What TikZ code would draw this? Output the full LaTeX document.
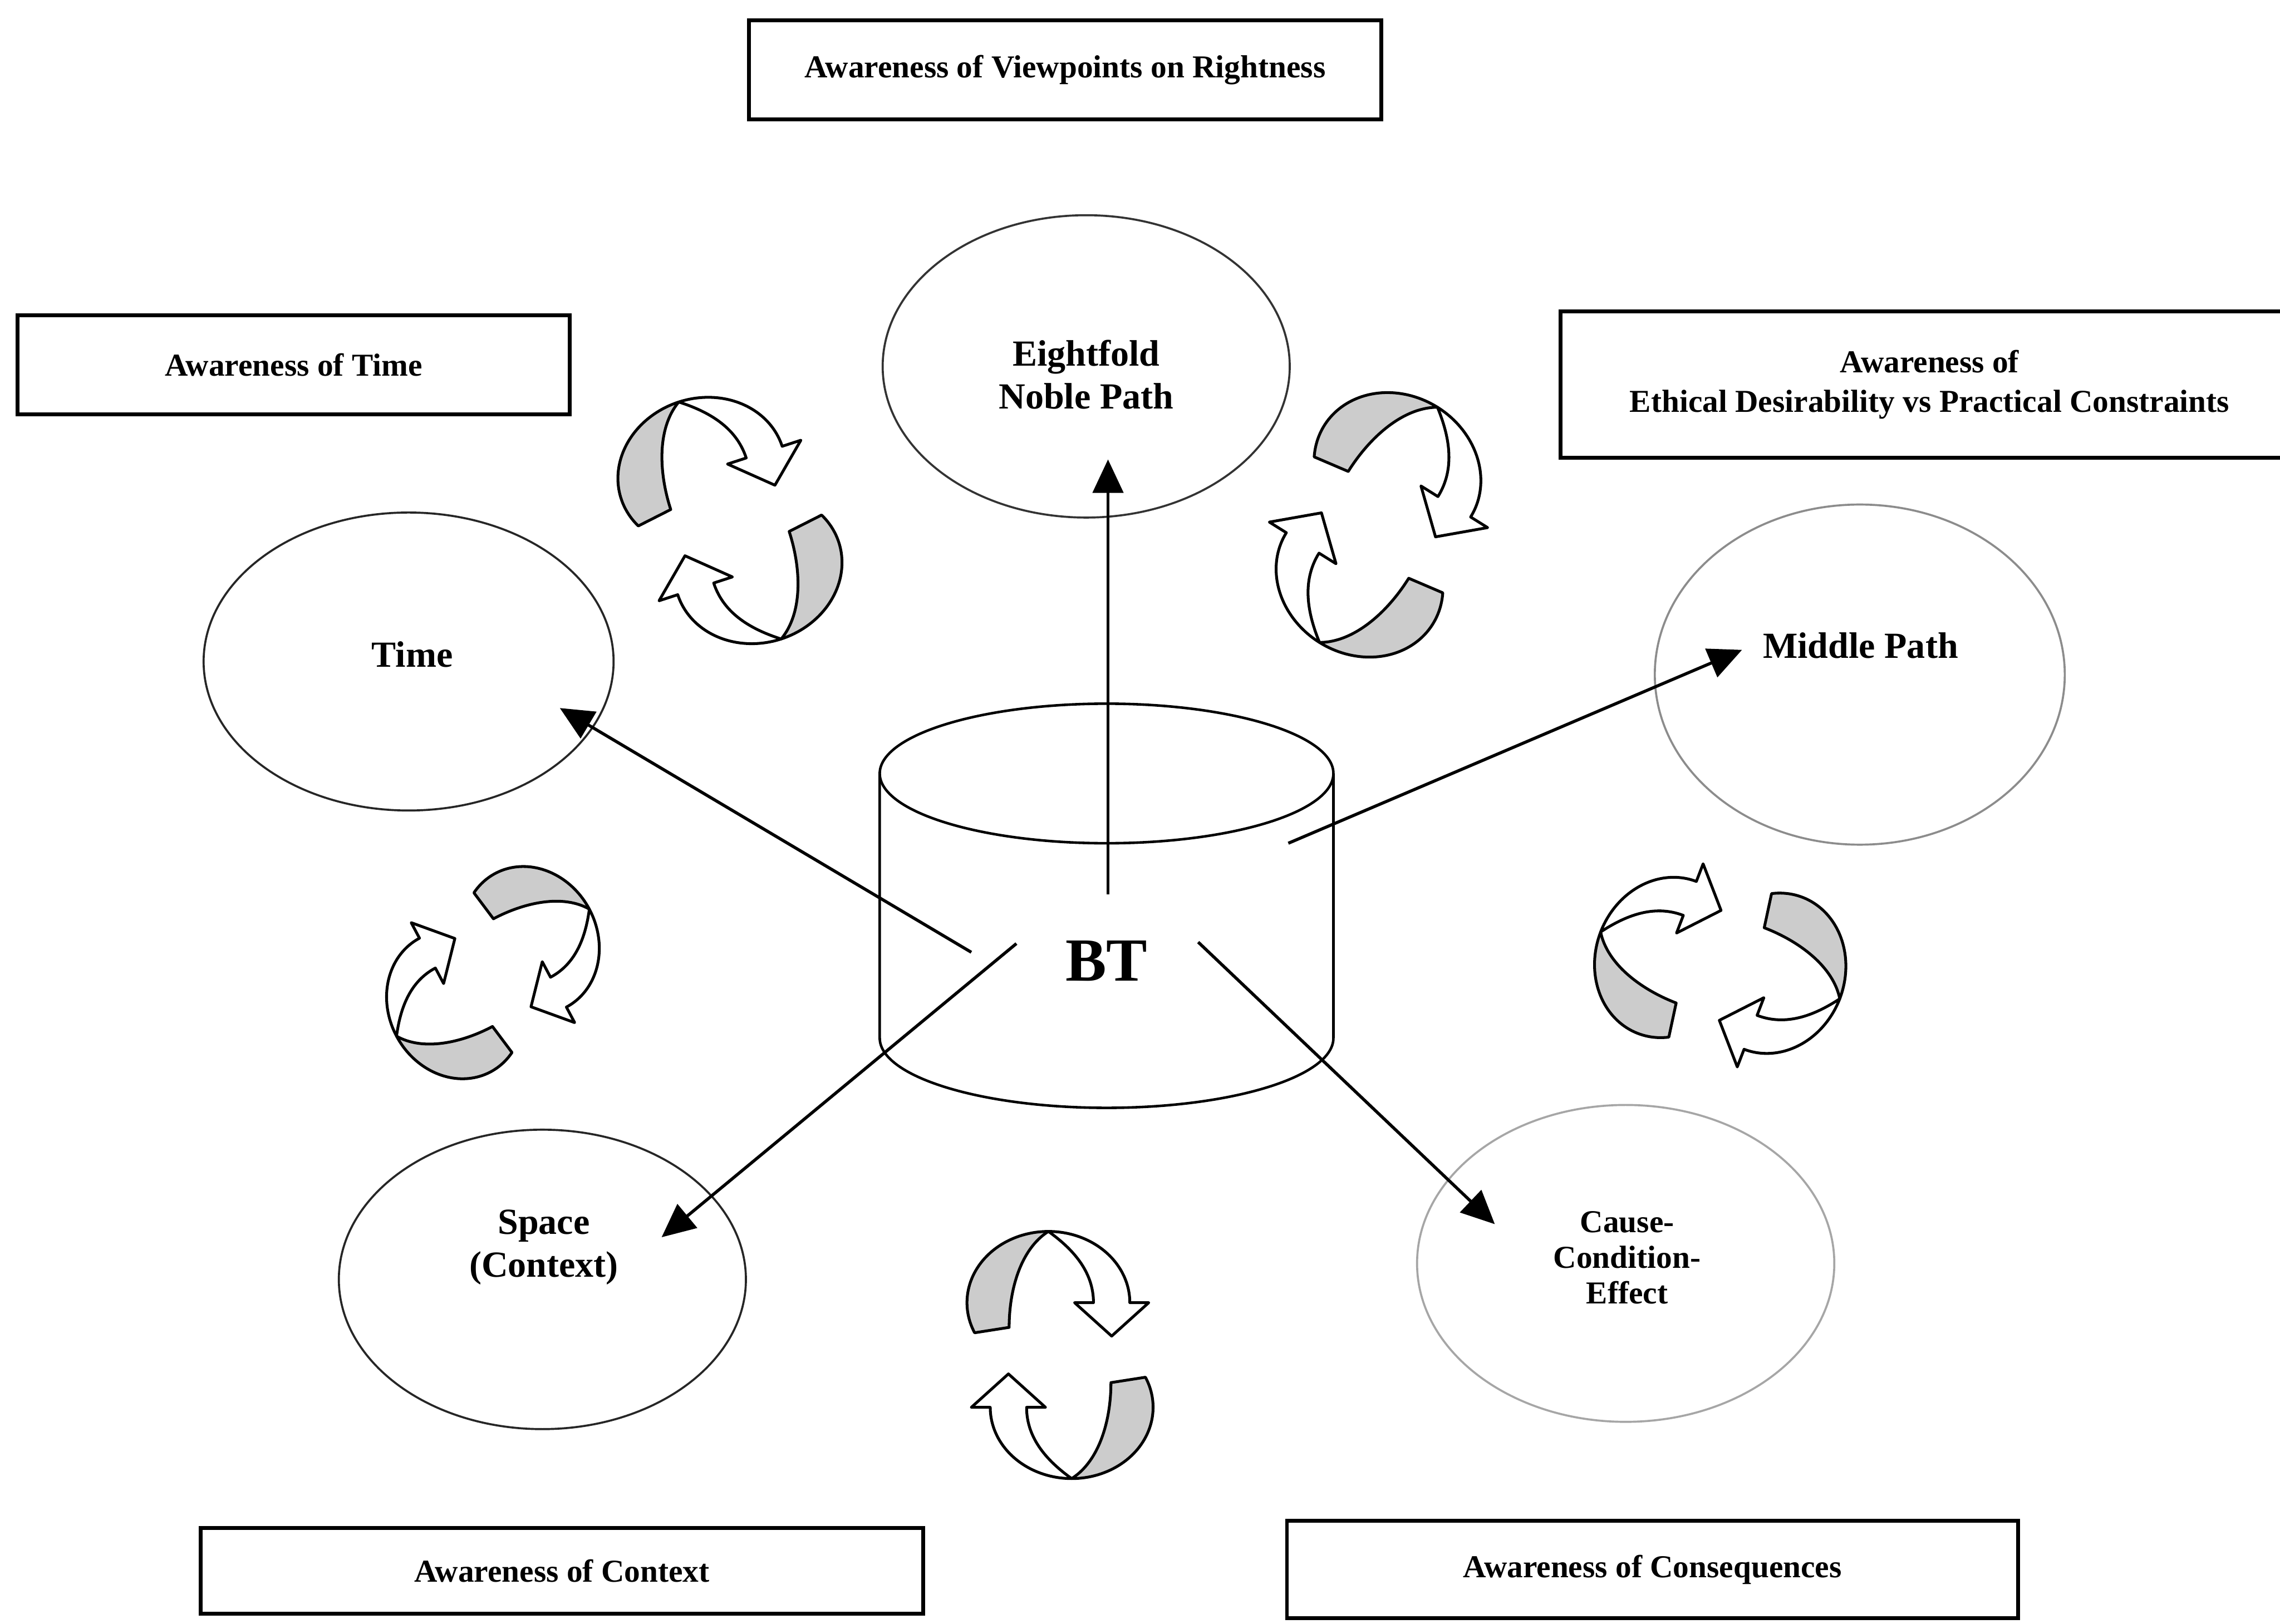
\documentclass[tikz,border=0pt]{standalone}
\usepackage{fontspec}
\setmainfont{Liberation Serif}
\usetikzlibrary{shapes.geometric, arrows.meta, calc}

% one twisted ribbon arrow: shaded back face running up to the twist at the
% top of its ring, then the white front face and the head
\newcommand{\ribbonarrow}{%
  \filldraw[ribshade]
    plot[domain=205:90, samples=50, variable=\t]
      ({-8+56*cos(\t)}, {36+49*sin(\t)})
    .. controls (-27,73) and (-35,45) .. (-35,19)
    -- cycle;
  \filldraw[ribwhite]
    plot[domain=90:0, samples=45, variable=\t]
      ({-8+56*cos(\t)}, {36+49*sin(\t)})
    -- (61,36) -- (35.5,13) -- (10,36) -- (23,36)
    .. controls (23,58) and (8,73.5) .. (-8,85)
    -- cycle;
}

\tikzset{
  % two ribbons chasing each other clockwise
  twistpair/.pic={
    \ribbonarrow
    \begin{scope}[rotate=180]
      \ribbonarrow
    \end{scope}
  },
}

\begin{document}
\begin{tikzpicture}[x=0.02cm, y=0.02cm,
  awbox/.style={draw=black, line width=1.5pt, rectangle, inner sep=0pt,
    font=\bfseries\fontsize{12.5}{15.5}\selectfont, align=center},
  oval/.style={ellipse, inner sep=0pt, line width=0.8pt},
  lbl/.style={font=\bfseries\fontsize{14.4}{16.8}\selectfont, align=center, inner sep=0pt},
  link/.style={line width=1.2pt, -{Triangle[length=0.46cm, width=0.42cm]}},
  cyl/.style={line width=1pt},
  ribshade/.style={fill=black!20, draw=black, line width=1.1pt, line join=round},
  ribwhite/.style={fill=white, draw=black, line width=1.1pt, line join=round},
]
\useasboundingbox (0,0) rectangle (1568,-1117);
\fill[white] (0,0) rectangle (1568,-1117);

% awareness boxes
\node[awbox, minimum width=8.7cm, minimum height=1.36cm] (viewpoints) at (732.5,-48) {Awareness of Viewpoints on Rightness};
\node[awbox, minimum width=7.6cm, minimum height=1.36cm] (timebox) at (202,-251) {Awareness of Time};
\node[awbox, minimum width=10.16cm, minimum height=2.02cm] (ethics) at (1327,-264.5) {Awareness of\\Ethical Desirability vs Practical Constraints};
\node[awbox, minimum width=9.94cm, minimum height=1.18cm] (contextbox) at (386.5,-1080.5) {Awareness of Context};
\node[awbox, minimum width=10.06cm, minimum height=1.34cm] (conseq) at (1136.5,-1079.5) {Awareness of Consequences};

% the five ovals and their labels
\node[oval, draw=black!80, minimum width=5.6cm, minimum height=4.16cm] (eightfold) at (747,-252) {};
\node[lbl] (eightlbl) at (747,-257.5) {Eightfold\\Noble Path};
\node[oval, draw=black!85, minimum width=5.64cm, minimum height=4.1cm] (time) at (281,-455) {};
\node[lbl] (timelbl) at (283.5,-450) {Time};
\node[oval, draw=black!45, minimum width=5.64cm, minimum height=4.68cm] (middle) at (1279,-464) {};
\node[lbl] (middlelbl) at (1279.5,-444) {Middle Path};
\node[oval, draw=black!85, minimum width=5.6cm, minimum height=4.12cm] (space) at (373,-880) {};
\node[lbl] (spacelbl) at (374,-858) {Space\\(Context)};
\node[oval, draw=black!35, minimum width=5.74cm, minimum height=4.36cm] (cause) at (1118,-869) {};
\node[font=\bfseries\fontsize{12.5}{13.9}\selectfont, align=center, inner sep=0pt] (causelbl) at (1119,-865) {Cause-\\Condition-\\Effect};

% central drum
\draw[cyl] (761,-532) ellipse[x radius=156, y radius=48];
\draw[cyl] (605,-532) -- (605,-714) arc[start angle=180, end angle=360, x radius=156, y radius=48] -- (917,-532);
\node[font=\bfseries\fontsize{24}{24}\selectfont, inner sep=0pt] (bt) at (761,-661) {BT};

% spokes from the drum
\coordinate (upS) at ($(bt)+(1,46)$);
\coordinate (upE) at ($(eightfold.center)+(15,-64)$);
\coordinate (timeS) at ($(bt)+(-93,6)$);
\coordinate (timeE) at ($(time.center)+(104,-32)$);
\coordinate (spaceS) at ($(bt)+(-62,12)$);
\coordinate (spaceE) at ($(space.center)+(82,29)$);
\coordinate (causeS) at ($(bt)+(63,13)$);
\coordinate (causeE) at ($(cause.center)+(-90,27)$);
\coordinate (midS) at ($(bt)+(125,81)$);
\coordinate (midE) at ($(middle.center)+(-81,17)$);
\draw[link] (upS) -- (upE);
\draw[link] (timeS) -- (timeE);
\draw[link] (spaceS) -- (spaceE);
\draw[link] (causeS) -- (causeE);
\draw[link] (midS) -- (midE);

% cycling ribbon pairs between neighbouring ovals
\pic[rotate=18, scale=1.04] (cycTL) at (502,-358) {twistpair};
\pic[rotate=-32, scale=1.06] (cycTR) at (948,-361) {twistpair};
\pic[rotate=-62, scale=0.93] (cycL) at (339,-669) {twistpair};
\pic[rotate=69] (cycR) at (1183,-664) {twistpair};
\pic (cycB) at (729,-932) {twistpair};
\end{tikzpicture}
\end{document}
